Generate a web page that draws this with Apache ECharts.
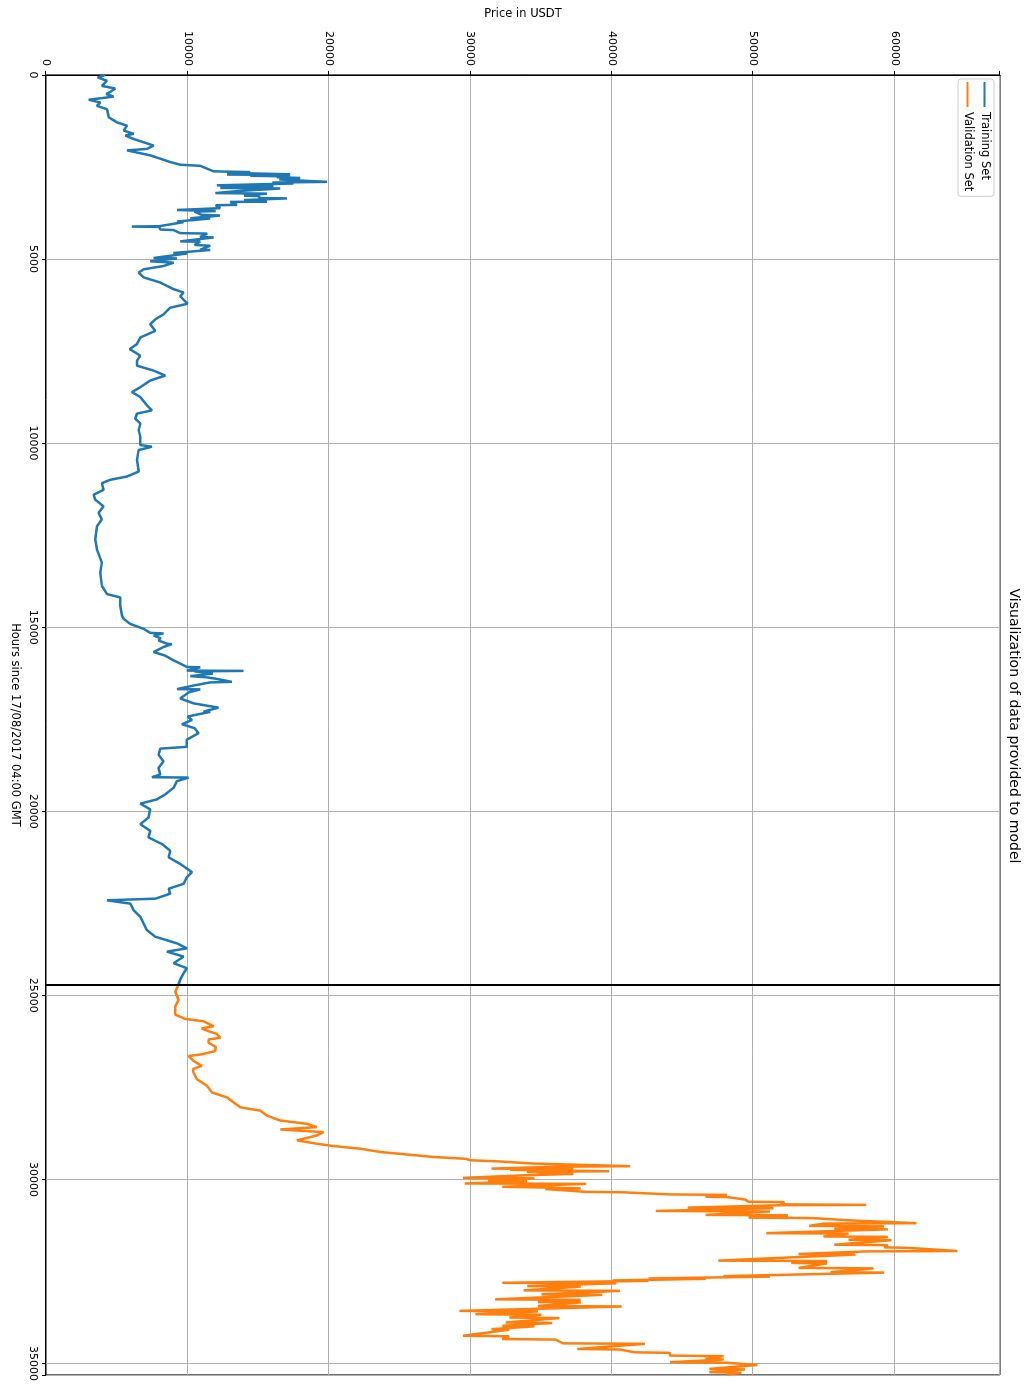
<!DOCTYPE html>
<html>
<head>
    <meta charset="utf-8">
    <title>Visualization of data provided to model</title>
    <script src="https://cdn.jsdelivr.net/npm/echarts@6/dist/echarts.min.js"></script>
    <style>
        html, body { margin: 0; padding: 0; background: #fff; overflow: hidden; }
        /* chart is drawn landscape, then turned a quarter clockwise like the original figure */
        #main {
            position: absolute; left: 0; top: 0;
            width: 1384px; height: 1024px;
            transform-origin: 0 0;
            transform: translate(1024px, 0) rotate(90deg);
        }
    </style>
</head>
<body>
<div id="main"></div>
<script>
    // [hours since 17/08/2017 04:00 GMT, price in USDT]
    var trainSet = [
        [0,4190],[70,3650],[160,4310],[300,3960],[370,4900],[460,4550],[520,4260],[590,4780],[675,3020],[750,3840],
        [840,3600],[930,4310],[1150,4430],[1290,5020],[1380,5730],[1510,5490],[1600,6200],[1650,5610],[1740,6200],[1830,6900],
        [1920,7610],[2010,7140],[2050,5730],[2096,6300],[2186,7370],[2276,8080],[2366,8780],[2440,9490],[2470,10900],[2546,11380],
        [2620,11850],[2640,14440],[2660,12800],[2700,17270],[2707,12790],[2720,17270],[2740,14440],[2755,17030],[2780,16320],[2800,17970],
        [2840,16500],[2880,18500],[2905,19860],[2925,16000],[2950,17500],[3000,12080],[3013,16090],[3070,12320],[3085,16560],[3157,13500],
        [3210,11970],[3225,15620],[3280,14000],[3290,15000],[3345,15150],[3355,17030],[3400,14000],[3445,15620],[3450,13020],[3530,13500],
        [3540,12000],[3620,12320],[3669,9260],[3700,12000],[3714,10500],[3800,11000],[3820,12300],[3894,10200],[3900,11610],[3984,9260],
        [4000,9730],[4110,8000],[4119,6070],[4130,8000],[4200,8080],[4215,9020],[4298,9490],[4310,11400],[4405,10900],[4415,11850],
        [4523,9490],[4530,10900],[4620,10500],[4640,11610],[4748,10900],[4755,11610],[4838,9000],[4850,10000],[4973,7610],[4985,9260],
        [5063,7370],[5100,9020],[5190,8320],[5280,6900],[5370,6550],[5500,6900],[5640,8080],[5820,9020],[5910,9730],[6010,9490],
        [6216,10010],[6323,8780],[6503,8310],[6638,7730],[6773,7370],[6953,7730],[7133,6670],[7312,6430],[7447,5910],[7627,6670],
        [7762,6430],[7897,6430],[8032,7610],[8166,8430],[8301,7370],[8481,6670],[8616,6080],[8751,6670],[8975,7140],[9110,7490],
        [9200,6430],[9335,6310],[9470,6670],[9650,6550],[9830,6670],[10054,6670],[10099,7490],[10189,6550],[10459,6430],[10773,6550],
        [10908,5720],[10998,4540],[11088,3950],[11268,4070],[11403,3370],[11538,3480],[11718,4070],[11897,3720],[12077,3950],[12259,3600],
        [12618,3480],[12888,3600],[13248,3950],[13517,3840],[13877,3950],[14102,4310],[14192,5250],[14416,5250],[14686,5370],[14777,5500],
        [14912,5960],[15047,6900],[15155,7370],[15170,8310],[15226,7610],[15300,8100],[15361,7960],[15451,8550],[15460,8900],[15540,8310],
        [15676,7610],[15770,8400],[15901,9020],[15990,9490],[16081,9960],[16090,10900],[16180,9960],[16188,13970],[16200,10500],[16260,11800],
        [16330,10200],[16360,11300],[16400,12000],[16485,13140],[16500,11610],[16580,10500],[16683,9260],[16690,10900],[16770,10100],[16935,9490],
        [17069,10430],[17186,12200],[17294,11140],[17300,11610],[17429,10000],[17520,10320],[17636,9610],[17743,10500],[17878,10790],[18057,9960],
        [18250,9960],[18290,10080],[18300,8080],[18464,7960],[18644,8310],[18823,7960],[19003,8080],[19075,7490],[19085,10080],[19183,9260],
        [19363,9020],[19543,8430],[19677,7840],[19794,6670],[19947,7370],[20172,7250],[20352,6670],[20532,7370],[20711,7250],[20891,8200],
        [21071,8780],[21251,8670],[21431,9490],[21655,10320],[21790,9960],[21970,9730],[22105,8670],[22240,8780],[22374,7730],[22419,4310],
        [22509,5960],[22689,6190],[22869,6670],[23049,6900],[23229,7140],[23408,7730],[23588,9260],[23723,9960],[23813,8550],[23948,9730],
        [24128,9020],[24262,9960],[24397,9730],[24577,9490],[24700,9370]
    ];
    var validSet = [
        [24710,9370],[24715,9490],[24895,9140],[25119,9370],[25299,9140],[25524,9140],[25641,9845],[25704,11140],[25839,11850],[25900,11000],
        [25973,11490],[26050,12100],[26153,12320],[26200,11500],[26288,11490],[26400,12000],[26513,11970],[26603,11020],[26648,10080],[26782,10430],
        [26917,11020],[27000,10400],[27097,10430],[27277,10670],[27457,11380],[27637,11730],[27771,12790],[27906,13260],[28041,13730],[28131,15150],
        [28266,15620],[28400,16560],[28490,18440],[28580,19150],[28643,16560],[28715,19620],[28805,19150],[28940,17740],[29030,19150],[29093,20330],
        [29165,22210],[29254,23630],[29390,27400],[29440,29700],[29479,29990],[29510,32000],[29569,34460],[29600,34500],[29640,41300],[29655,36000],
        [29706,31500],[29720,37300],[29740,32800],[29778,39830],[29790,34000],[29850,37300],[29885,34000],[29957,29480],[29970,34530],[30020,31250],
        [30050,34000],[30110,29610],[30120,38190],[30200,32260],[30220,35300],[30245,37800],[30260,35300],[30335,38060],[30350,40840],[30407,44120],
        [30420,48160],[30470,46640],[30480,48160],[30533,48160],[30545,49420],[30605,49670],[30615,52200],[30677,51950],[30690,58000],[30700,52000],
        [30766,45380],[30780,51440],[30856,43110],[30870,51190],[30964,46640],[30975,52450],[31036,49670],[31050,54220],[31099,54220],[31110,56740],
        [31189,61540],[31200,55000],[31261,53960],[31275,59250],[31342,55730],[31355,59520],[31459,50930],[31470,56740],[31549,54970],[31560,59520],
        [31638,56740],[31650,59770],[31773,55730],[31785,59520],[31845,59260],[31860,61030],[31944,64440],[31955,58000],[32025,53210],[32040,57240],
        [32205,47530],[32215,55230],[32268,52700],[32280,55230],[32403,53210],[32415,58510],[32520,55480],[32530,59260],[32627,47900],[32640,51190],
        [32690,42600],[32700,46640],[32744,40080],[32755,42600],[32807,32260],[32820,40330],[32897,34020],[32910,37810],[33014,33770],[33025,40590],
        [33122,35030],[33135,39320],[33257,31750],[33270,37810],[33329,34780],[33340,37810],[33437,34780],[33450,40710],[33571,29230],[33585,34780],
        [33661,30360],[33675,35030],[33751,32760],[33765,36300],[33886,32510],[33900,35790],[33976,32260],[33990,34530],[34066,31500],[34080,32760],
        [34246,29480],[34260,32760],[34335,32260],[34350,36040],[34452,36550],[34465,42350],[34605,37560],[34620,40590],[34695,41600],[34710,44120],
        [34785,44120],[34800,47910],[34875,46640],[34890,47910],[34965,44120],[34980,48160],[35028,48160],[35040,50300],[35145,46900],[35160,49420],
        [35235,46900],[35250,49170],[35300,48140]
    ];
    var splitHour = 24700;
    var seriesNames = ['Training Set', 'Validation Set'];

    var font = 'DejaVu Sans';
    var myChart = echarts.init(document.getElementById('main'), null, {renderer: 'canvas'});
    var option = {
        animation: false,
        backgroundColor: '#fff',
        textStyle: {fontFamily: font},
        title: {
            text: 'Visualization of data provided to model',
            left: 726,
            top: 3,
            padding: 0,
            textAlign: 'center',
            textStyle: {fontFamily: font, fontSize: 14, fontWeight: 'normal', color: '#000'}
        },
        legend: {
            data: seriesNames,
            orient: 'vertical',
            left: 79,
            top: 30,
            padding: [3, 5, 3, 3],
            itemGap: 4,
            itemWidth: 25,
            itemHeight: 2,
            icon: 'rect',
            borderColor: '#cccccc',
            borderWidth: 1,
            borderRadius: 3,
            textStyle: {fontFamily: font, fontSize: 11.5, color: '#000', lineHeight: 13}
        },
        grid: {
            left: 72, right: 3, top: 24, bottom: 46,
            show: true, borderColor: '#000', borderWidth: 1
        },
        xAxis: {
            type: 'value',
            min: 0, max: 35310, interval: 5000,
            name: 'Hours since 17/08/2017 04:00 GMT',
            nameLocation: 'middle',
            nameGap: 25,
            nameTextStyle: {fontFamily: font, fontSize: 11.5, color: '#000'},
            axisLine: {lineStyle: {color: '#000', width: 1}},
            axisTick: {length: 4, lineStyle: {color: '#000'}},
            axisLabel: {
                fontFamily: font, fontSize: 11, color: '#000', margin: 8,
                formatter: function (v) { return v % 5000 === 0 ? String(v) : ''; }
            },
            splitLine: {show: true, lineStyle: {color: '#b0b0b0', width: 1}}
        },
        yAxis: {
            type: 'value',
            min: 0, max: 67450, interval: 10000,
            name: 'Price in USDT',
            nameLocation: 'middle',
            nameGap: 51,
            nameTextStyle: {fontFamily: font, fontSize: 11.5, color: '#000'},
            axisLine: {show: true, lineStyle: {color: '#000', width: 1}},
            axisTick: {show: true, length: 4, lineStyle: {color: '#000'}},
            axisLabel: {
                fontFamily: font, fontSize: 11, color: '#000', margin: 9,
                formatter: function (v) { return v % 10000 === 0 ? String(v) : ''; }
            },
            splitLine: {show: true, lineStyle: {color: '#b0b0b0', width: 1}}
        },
        series: [{
            name: seriesNames[0],
            type: 'line',
            data: trainSet,
            symbol: 'none',
            color: '#1f77b4',
            lineStyle: {color: '#1f77b4', width: 2.5},
            markLine: {
                silent: true,
                symbol: 'none',
                label: {show: false},
                lineStyle: {color: '#000', width: 2, type: 'solid'},
                data: [{xAxis: splitHour}]
            }
        }, {
            name: seriesNames[1],
            type: 'line',
            data: validSet,
            symbol: 'none',
            color: '#ff7f0e',
            lineStyle: {color: '#ff7f0e', width: 2.5}
        }]
    };
    myChart.setOption(option);
</script>
</body>
</html>
